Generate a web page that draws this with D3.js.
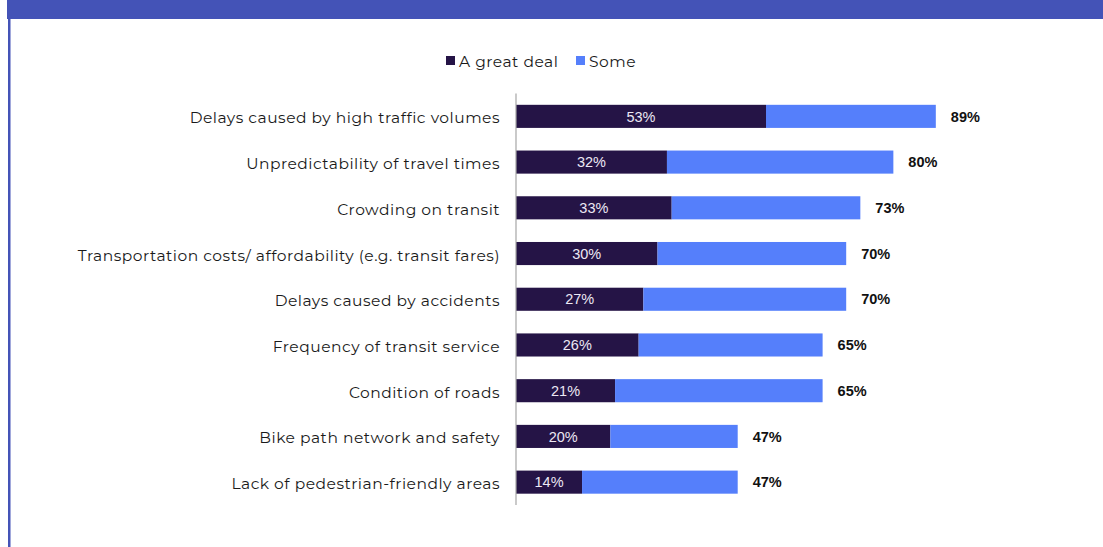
<!DOCTYPE html>
<html>
<head>
<meta charset="utf-8">
<script src="https://cdn.jsdelivr.net/npm/d3@7"></script>
<style>
  html, body { margin: 0; padding: 0; background: #fff; }
  svg { display: block; }
</style>
</head>
<body>
<svg id="chart" width="1103" height="547"></svg>
<script>
// Share of respondents who say each issue is a challenge
const categories = [
  "Delays caused by high traffic volumes",
  "Unpredictability of travel times",
  "Crowding on transit",
  "Transportation costs/ affordability (e.g. transit fares)",
  "Delays caused by accidents",
  "Frequency of transit service",
  "Condition of roads",
  "Bike path network and safety",
  "Lack of pedestrian-friendly areas"
];
const greatDeal = [53, 32, 33, 30, 27, 26, 21, 20, 14];
const totals    = [89, 80, 73, 70, 70, 65, 65, 47, 47];
const seriesNames = ["A great deal", "Some"];
const colors = ["#251446", "#557ffb"];

const svg = d3.select("#chart");
const W = 1103, H = 547;

// header band and left frame rule
svg.append("rect").attr("x", 7).attr("y", 0).attr("width", W - 7).attr("height", 19)
  .attr("fill", "#4453b7");
svg.append("rect").attr("x", 8).attr("y", 19).attr("width", 2.5).attr("height", H - 19)
  .attr("fill", "#4453b7");

const x = d3.scaleLinear().domain([0, 100]).range([516, 987.7]);
const y = d3.scaleBand().domain(categories).range([93.5, 505]).paddingInner(0.495).paddingOuter(0.2475);

const rows = categories.map((c, i) => ({
  cat: c, deal: greatDeal[i], some: totals[i] - greatDeal[i], total: totals[i]
}));
const stacked = d3.stack().keys(["deal", "some"])(rows);

const g = svg.append("g");
g.selectAll("g.series").data(stacked).join("g")
  .attr("class", "series")
  .attr("fill", (d, i) => colors[i])
  .selectAll("rect").data(d => d).join("rect")
  .attr("x", d => x(d[0]))
  .attr("y", d => y(d.data.cat))
  .attr("width", d => x(d[1]) - x(d[0]))
  .attr("height", y.bandwidth());

// inner labels on the dark segment
g.selectAll("text.inner").data(rows).join("text")
  .attr("class", "inner")
  .attr("x", d => x(d.deal / 2))
  .attr("y", d => y(d.cat) + y.bandwidth() / 2)
  .attr("dy", "0.36em")
  .attr("text-anchor", "middle")
  .attr("font-family", "'Liberation Sans', Arial, sans-serif")
  .attr("font-size", 14.5)
  .attr("fill", "#ece8f4")
  .text(d => d.deal + "%");

// totals at bar ends
g.selectAll("text.total").data(rows).join("text")
  .attr("class", "total")
  .attr("x", d => x(d.total) + 15)
  .attr("y", d => y(d.cat) + y.bandwidth() / 2)
  .attr("dy", "0.36em")
  .attr("font-family", "'Liberation Sans', Arial, sans-serif")
  .attr("font-weight", 700)
  .attr("font-size", 14.5)
  .attr("fill", "#111")
  .text(d => d.total + "%");

// category axis
const yAxis = svg.append("g").attr("transform", "translate(516,0)")
  .call(d3.axisLeft(y).tickSize(0).tickPadding(16));
yAxis.select(".domain").attr("stroke", "#a6a6a6").attr("stroke-width", 1.2)
  .attr("d", "M0,93.5V505");
yAxis.selectAll("text")
  .attr("font-family", "Montserrat, 'Open Sans', sans-serif")
  .attr("font-size", 15.5)
  .attr("letter-spacing", 0.5)
  .attr("dy", "0.45em")
  .attr("fill", "#1a1a1a");

// legend
const legend = svg.append("g").attr("font-family", "Montserrat, 'Open Sans', sans-serif")
  .attr("font-size", 15.5).attr("letter-spacing", 0.5).attr("fill", "#1a1a1a");
const legendX = [446, 576];
seriesNames.forEach((name, i) => {
  legend.append("rect").attr("x", legendX[i]).attr("y", 56).attr("width", 9).attr("height", 9)
    .attr("fill", colors[i]);
  legend.append("text").attr("x", legendX[i] + 13).attr("y", 61).attr("dy", "0.4em")
    .text(name);
});
</script>
</body>
</html>
